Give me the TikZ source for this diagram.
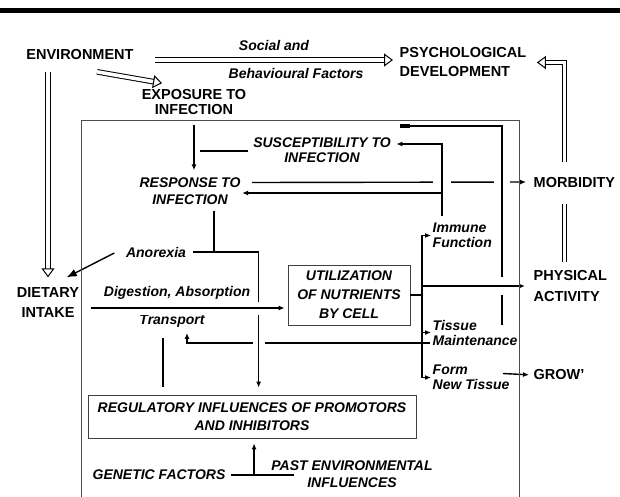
\documentclass[tikz,border=0pt]{standalone}
\usepackage{fontspec}
\setmainfont{Liberation Sans}
\usetikzlibrary{arrows.meta,calc}

\tikzset{
  caps/.style={font=\fontsize{14.5}{#1}\selectfont\bfseries, inner sep=1pt, align=center},
  caps/.default=19,
  ital/.style={font=\fontsize{14}{#1}\selectfont\bfseries\itshape, inner sep=1pt, align=center},
  ital/.default=17,
  hollow/.style={double, double distance=3.6pt, line width=1pt,
    -{Triangle[open,length=9pt,width=13pt]}},
  halo/.style={preaction={draw=white,line width=#1,-}},
  cellbox/.style={draw=black!75, line width=0.8pt, inner sep=0pt},
  frame/.style={draw=black!70, line width=0.8pt},
}

\begin{document}
\begin{tikzpicture}[x=1pt,y=-1pt,line width=1.4pt,>={Latex[length=6pt,width=5pt]}]
  \useasboundingbox (0,0) rectangle (620,497);
  \fill (0,8) rectangle (620,13.5);

  % outer labels
  \node[caps] (env) at (80,55) {ENVIRONMENT};
  \node[ital] (social) at (274,46) {Social and};
  \node[ital] (behav) at (296,73) {Behavioural Factors};
  \node[caps, anchor=west, align=left] (psych) at (398,62.5) {PSYCHOLOGICAL\\DEVELOPMENT};
  \node[caps=15] (expo) at (194,102.5) {EXPOSURE TO\\INFECTION};
  \node[caps=20] (diet) at (48,303) {DIETARY\\INTAKE};
  \node[caps=21, anchor=west, align=left] (phys) at (532,286) {PHYSICAL\\ACTIVITY};
  \node[caps, anchor=west] (grow) at (532,375) {GROW'};

  % inner labels
  \node[ital=15] (suscept) at (322,150.5) {SUSCEPTIBILITY TO\\INFECTION};
  \node[ital] (resp) at (190,191.5) {RESPONSE TO\\INFECTION};
  \node[ital] (anor) at (156,252) {Anorexia};
  \node[ital] (digest) at (177,293) {Digestion, Absorption};
  \node[ital] (transp) at (172,321) {Transport};
  \node[cellbox, ital=19, minimum width=122pt, minimum height=60pt] (util) at (349,295)
    {UTILIZATION\\OF NUTRIENTS\\BY CELL};
  \node[ital=15, anchor=west, align=left] (immune) at (431,235.5) {Immune\\Function};
  \node[ital=15, anchor=west, align=left] (tissue) at (431,332.5) {Tissue\\Maintenance};
  \node[ital=15, anchor=west, align=left] (form) at (431,377.5) {Form\\New Tissue};
  \node[cellbox, ital=18, minimum width=328pt, minimum height=43pt] (reg) at (252,416.5)
    {REGULATORY INFLUENCES OF PROMOTORS\\AND INHIBITORS};
  \node[ital] (genetic) at (159,475) {GENETIC FACTORS};
  \node[ital] (past) at (352,474.5) {PAST ENVIRONMENTAL\\INFLUENCES};

  % hollow arrows
  \draw[hollow] ($(env.east)+(20,5)$) -- ($(psych.west)+(-5,-2.5)$);
  \draw[hollow] ($(env.south)+(17,10)$) -- ($(expo.north west)+(22,-5)$);
  \draw[hollow] ($(env.south -| diet.north)+(0,10)$) -- ($(diet.north)+(0,-9)$);
  \draw[hollow] ($(phys.north)+(-6,-7)$) |- ($(psych.east)+(9,0)$);
  \node[caps, anchor=west, fill=white, inner xsep=2pt, minimum height=42pt] (morb)
    at (531,182.5) {MORBIDITY};

  % infection loop
  \draw[->, shorten <=8pt, shorten >=6pt] (expo.south) -- (expo.south |- resp.north);
  \draw ($(suscept.west)+(-4,0.5)$) -- ($(expo.south |- suscept.west)+(6,0.5)$);
  \draw[->, shorten >=5pt] ($(resp.east)+(10,-9)$) -- (morb.west |- 0,182);
  \coordinate (rise) at ($(immune.north west)+(11,-5)$);
  \draw[->, halo=18pt] (rise) |- ($(suscept.east)+(4,-6.5)$);
  \draw[->] (rise |- 0,193) -- (resp.east |- 0,193);
  \coordinate (trise) at ($(tissue.west)+(71,-8)$);
  \coordinate (tend) at (400,126);
  \draw[-{Rectangle[length=10pt,width=3.5pt]}, halo=16pt] (trise) |- (tend);

  % nutrient use
  \coordinate (bus) at ($(immune.west)+(-9,0)$);
  \draw[->, halo=18pt, shorten >=7pt] (bus |- 0,286) -- (phys.west |- 0,286);
  \draw (util.east) -- (util.east -| bus);
  \draw[->] (util.east -| bus) |- (immune.west);
  \draw[->] (util.east -| bus) |- (form.west);
  \draw[->] (tissue.west -| bus) -- (tissue.west);
  \draw[->, shorten >=3pt] ($(form.west)+(72,-4)$) -- (grow.west);
  \draw[->] ($(tissue.west)+(-1,10.5)$) -| ($(transp.south)+(15,4)$);

  % anorexia and intake
  \draw[-{Latex[length=10pt,width=8pt]}] ($(anor.west)+(-10,1)$) -- ($(diet.north east)+(-14,-9)$);
  \coordinate (drop) at ($(anor.east)+(71,0)$);
  \draw[->, halo=12pt, shorten >=7pt] ($(anor.east)+(5,0)$) -| (drop |- reg.north);
  \coordinate (rs) at ($(resp.south)+(24,4)$);
  \draw (rs) -- (rs |- anor.east);
  \draw[->, halo=13pt, shorten >=3pt] ($(diet.east)+(10,5)$) -- (util.west |- 0,308);
  \coordinate (tr) at ($(transp.south)+(-9,9)$);
  \draw (tr) -- ($(tr |- reg.north)+(0,-8)$);

  % regulation
  \coordinate (gm) at ($(genetic.east)+(27,0)$);
  \draw ($(genetic.east)+(4,0)$) -- ($(genetic.east)+(67,0)$);
  \draw[->] (gm) -- ($(gm |- reg.south)+(0,5)$);

  \draw[frame] (81,497) |- (519,120) -- (519,497);
\end{tikzpicture}
\end{document}
